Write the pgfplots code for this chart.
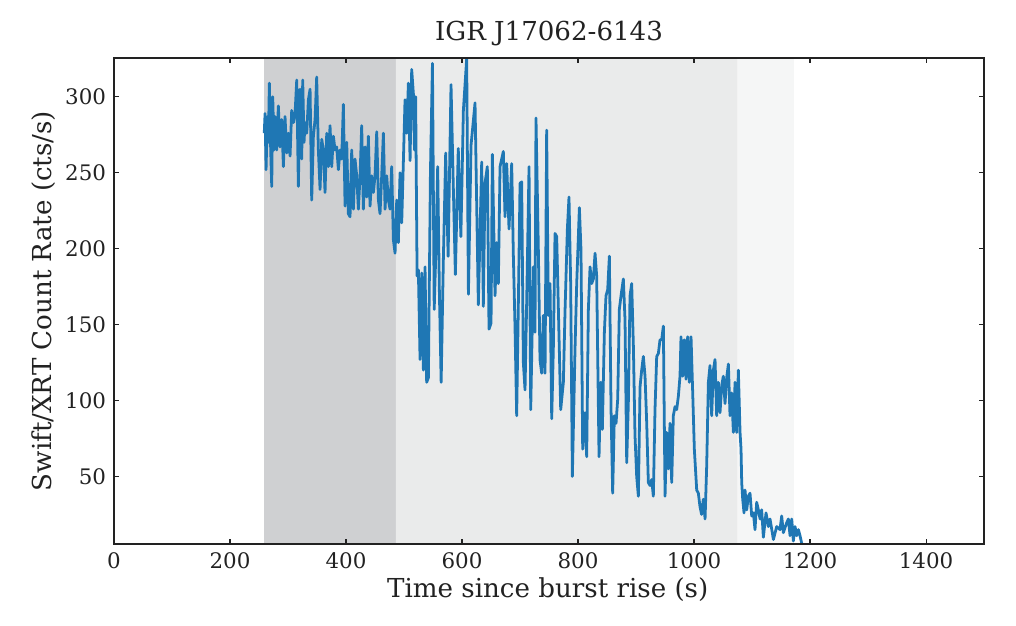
\documentclass[border=0pt]{standalone}
\usepackage{fontspec}
\setmainfont{DejaVu Serif}
\usepackage{pgfplots}
\pgfplotsset{compat=1.18}
\definecolor{mblue}{RGB}{31,119,180}
\definecolor{shadeA}{RGB}{207,208,210}
\definecolor{shadeB}{RGB}{234,235,235}
\definecolor{shadeC}{RGB}{245,246,246}
\definecolor{axcol}{RGB}{34,34,34}
\begin{document}
\begin{tikzpicture}
\begin{axis}[
  at={(0,0)}, anchor=south west,
  scale only axis, width=626.4pt, height=349.9pt,
  xmin=0, xmax=1500, ymin=5.5, ymax=325.5,
  xtick={0,200,...,1400}, ytick={50,100,...,300},
  tick align=inside, major tick length=3.6pt,
  xtick pos=both, ytick pos=both,
  tick style={line width=0.8pt, color=axcol},
  axis line style={line width=1.3pt, color=axcol},
  /pgf/number format/assume math mode=true,
  /pgf/number format/1000 sep={},
  scaled ticks=false,
  ticklabel style={font=\fontsize{15.4}{17}\selectfont, text=axcol, inner sep=0pt},
  yticklabel style={anchor=east, xshift=-5.6pt},
  xticklabel style={anchor=north, yshift=-6.3pt},
  title={IGR J17062-6143},
  title style={font=\fontsize{18.8}{21}\selectfont, text=axcol, at={(axis description cs:0.5,1.0185)}, anchor=base, inner sep=0pt},
  xlabel={Time since burst rise (s)},
  ylabel={Swift/XRT Count Rate (cts/s)},
  xlabel style={font=\fontsize{18.8}{21}\selectfont, text=axcol, at={(axis description cs:0.4985,-0.111)}, anchor=base, inner sep=0pt},
  ylabel style={font=\fontsize{18.8}{21}\selectfont, text=axcol, at={(axis description cs:-0.0713,0.5)}, anchor=base, inner sep=0pt},
  axis on top,
]
\addplot[draw=none, fill=shadeA] coordinates {(258.6,5.5) (486,5.5) (486,325.5) (258.6,325.5)} \closedcycle;
\addplot[draw=none, fill=shadeB] coordinates {(486,5.5) (1075,5.5) (1075,325.5) (486,325.5)} \closedcycle;
\addplot[draw=none, fill=shadeC] coordinates {(1075,5.5) (1172,5.5) (1172,325.5) (1075,325.5)} \closedcycle;
\addplot[color=mblue, line width=2.0pt, line join=round, mark=none] coordinates {
(259,276) (260.4,289) (262.1,252) (264.4,287) (266.1,270) (267.8,309) (270.1,265) (271.9,241)
(273.6,300) (275.9,265) (277.6,287) (280.5,265) (283.3,294) (286.2,267) (289.1,285) (292,254)
(294.8,287) (297.7,263) (300.6,276) (303.5,261) (306.3,291) (309.2,283) (312.1,289) (315,311)
(317.8,241) (320.7,305) (323.6,259) (325.3,311) (327.6,270) (329.3,283) (332.2,276) (335.1,298)
(338,305) (340.8,232) (343.7,274) (346.6,285) (349.4,313) (352.3,265) (355.2,239) (358.1,272)
(360.9,265) (363.8,237) (366.7,276) (369.6,254) (372.4,281) (375.3,254) (378.2,274) (381,265)
(383.9,267) (386.8,252) (389.7,265) (392.5,259) (395.4,295) (398.3,228) (401.2,270) (404,223)
(406.9,221) (409.8,265) (412.7,226) (415.5,259) (418.4,248) (421.3,226) (424.2,248) (427,281)
(429.9,226) (432.8,267) (435.6,234) (438.5,274) (441.4,228) (444.3,248) (447.1,237) (450,248)
(452.9,277) (455.8,232) (458.6,223) (461.5,248) (464.4,276) (467.3,226) (470.1,248) (473,232)
(475.9,226) (478.7,254) (481.6,206) (484.5,197) (487.4,232) (490.2,204) (493.1,250) (496,217)
(498.9,258) (501.7,298) (504.6,276) (507.5,309) (510.4,258) (513.2,318) (516.1,302) (518,265)
(520,300) (522.5,182) (524.7,186) (527.6,127) (530.5,184) (533.4,120) (536.2,188) (539,112)
(542,115) (545.5,250) (549,322) (552,160) (555,200) (558,254) (561,170) (564,112)
(567.8,193) (571.8,263) (576,195) (581,308) (585,240) (588.5,183) (593.5,266) (598,208)
(602.3,291) (608,325) (611,170) (615.5,268) (622.4,296) (628.1,163) (633.9,257) (636.7,162)
(639.6,243) (643.6,254) (646.5,147) (650,151) (652.3,262) (656.9,169) (659.7,204) (662.6,177)
(665.5,254) (671.2,264) (674.1,221) (677,256) (681,213) (685.6,256) (688.5,195) (691.3,149)
(694.2,90) (697.1,164) (700,243) (702.8,244) (705.7,125) (708.6,107) (711.5,166) (715.5,254)
(718.4,94) (723,188) (725.8,145) (727.5,286) (731.6,199) (734.4,127) (737.3,118) (740.2,156)
(743.1,118) (745.9,278) (748.8,156) (751.7,177) (754.6,88) (757.4,134) (760.3,210) (763.2,208)
(767.2,142) (770.1,94) (774.7,112) (777.5,158) (781.6,213) (784.4,234) (787.3,177) (790.2,50)
(794.8,134) (797.7,177) (802.3,227) (805.1,199) (808,68) (812,92) (814.9,63) (817.8,160)
(820.7,188) (823.5,177) (826.4,180) (829.3,197) (832.1,182) (836.2,63) (839,112) (841.9,81)
(845.4,145) (848.2,169) (851.1,173) (854,195) (856.9,94) (859.7,39) (862.6,90) (865.5,85)
(868.4,101) (871.2,160) (874.1,169) (878.1,180) (881,153) (883.9,59) (886.7,98) (889.6,169)
(892.5,177) (895.4,136) (898.2,77) (901.1,50) (904,37) (906.9,109) (909.7,120) (912.6,129)
(915.5,116) (918.4,85) (921.2,46) (924.1,44) (927,48) (929.8,37) (932.7,94) (935.6,129)
(938.5,131) (941.3,140) (944.2,140) (947.1,149) (950,37) (952.8,79) (955.7,55) (958.6,85)
(961.5,46) (964.3,90) (967.2,96) (970.1,94) (973,103) (975.8,116) (977.5,142) (980.4,116)
(983.3,140) (986.2,114) (989,142) (991.9,112) (994.8,142) (997.7,105) (1000.5,68) (1004.6,41)
(1007.4,39) (1010.3,30) (1013,25) (1016,35) (1019,22) (1021.8,57) (1024.7,112) (1027.5,123)
(1030.4,90) (1033.3,120) (1036.2,127) (1039,90) (1041.9,112) (1044.8,92) (1047.7,110) (1050.5,116)
(1053.4,98) (1056.3,115) (1059.2,124) (1062,90) (1064.9,105) (1067.8,79) (1070.7,112) (1073.5,79)
(1076.4,120) (1079.3,79) (1081,68) (1082.2,46) (1083.9,35) (1086.2,26) (1087.9,41) (1090.8,28)
(1093.6,37) (1096.5,39) (1099.4,24) (1102.3,26) (1105.1,15) (1108,33) (1110.9,28) (1113.8,22)
(1116.6,28) (1119.5,10) (1124.1,26) (1128.1,17) (1131,22) (1136.8,8.5) (1142.5,17) (1148.2,15)
(1151.1,24) (1154,13) (1159.7,19.5) (1162.6,22) (1165.5,11) (1168.4,22) (1171.2,7.5) (1174.1,17)
(1177,11) (1179.9,15) (1182.7,11) (1185.6,6)
};
\end{axis}
\path[use as bounding box] (-82.1pt,-59pt) rectangle (649.4pt,391.7pt);
\end{tikzpicture}
\end{document}
